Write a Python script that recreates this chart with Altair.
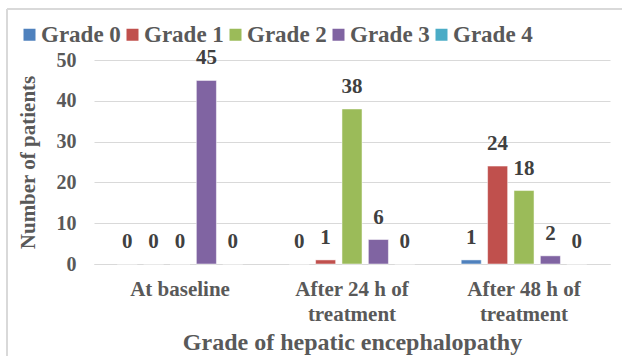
import altair as alt
import pandas as pd

categories = ["At baseline", "After 24 h of treatment", "After 48 h of treatment"]
grades = ["Grade 0", "Grade 1", "Grade 2", "Grade 3", "Grade 4"]
grade0 = [0, 0, 1]
grade1 = [0, 1, 24]
grade2 = [0, 38, 18]
grade3 = [45, 6, 2]
grade4 = [0, 0, 0]
colors = ["#4F81BD", "#C0504D", "#9BBB59", "#8064A2", "#4BACC6"]

series = [grade0, grade1, grade2, grade3, grade4]
rows = []
for g, vals in zip(grades, series):
    for c, v in zip(categories, vals):
        rows.append({"category": c, "grade": g, "value": v})
df = pd.DataFrame(rows)

FONT = "Liberation Serif"
W, H = 516, 204

x = alt.X("category:N", sort=categories,
          scale=alt.Scale(paddingInner=0.233, paddingOuter=0.1165),
          axis=alt.Axis(title="Grade of hepatic encephalopathy", labelAngle=0,
                        labelExpr="length(datum.value) > 12 ? [slice(datum.value, 0, -10), 'treatment'] : datum.value",
                        labelLineHeight=25, labelPadding=14, titlePadding=6,
                        domainColor="#D9D9D9", ticks=False, grid=False))
xo = alt.XOffset("grade:N", sort=grades, scale=alt.Scale(paddingInner=0.24, paddingOuter=0.12))
y = alt.Y("value:Q", scale=alt.Scale(domain=[0, 50]),
          axis=alt.Axis(title="Number of patients", values=[0, 10, 20, 30, 40, 50],
                        domain=False, ticks=False, labelPadding=18, titlePadding=18,
                        gridColor="#D9D9D9"))
color = alt.Color("grade:N", sort=grades,
                  scale=alt.Scale(domain=grades, range=colors),
                  legend=alt.Legend(title=None, orient="none", direction="horizontal",
                                    legendX=-76, legendY=-37, symbolType="square",
                                    symbolSize=144, symbolStrokeWidth=0,
                                    labelOffset=0, columnPadding=-20))

bars = alt.Chart(df).mark_bar(stroke="white", strokeWidth=0.5).encode(x=x, xOffset=xo, y=y, color=color)
labels = alt.Chart(df).mark_text(font=FONT, fontWeight="bold", fontSize=21, color="#404040",
                                 baseline="alphabetic", dy=-16).encode(
    x=alt.X("category:N", sort=categories), xOffset=alt.XOffset("grade:N", sort=grades),
    y="value:Q", text="value:Q")

border_left = alt.Chart(df).mark_rule(color="#D9D9D9", strokeWidth=1.5).encode(
    x=alt.value(-87), y=alt.value(-51), y2=alt.value(296))
border_top = alt.Chart(df).mark_rule(color="#D9D9D9", strokeWidth=1.5).encode(
    x=alt.value(-87), x2=alt.value(528), y=alt.value(-51))

chart = alt.layer(bars, labels, border_left, border_top).properties(
    width=W, height=H,
    autosize=alt.AutoSizeParams(type="none"),
    padding={"left": 94, "top": 60, "right": 12, "bottom": 92},
    background="white",
).configure_view(stroke=None).configure_axis(
    labelFont=FONT, labelFontWeight="bold", labelFontSize=20, labelColor="#595959",
    titleFont=FONT, titleFontWeight="bold", titleFontSize=21, titleColor="#595959",
).configure_axisX(titleFontSize=24, labelFontSize=21).configure_legend(
    labelFont=FONT, labelFontWeight="bold", labelFontSize=23, labelColor="#595959")

chart.save("out.html", embed_options={"renderer": "svg", "actions": False})
